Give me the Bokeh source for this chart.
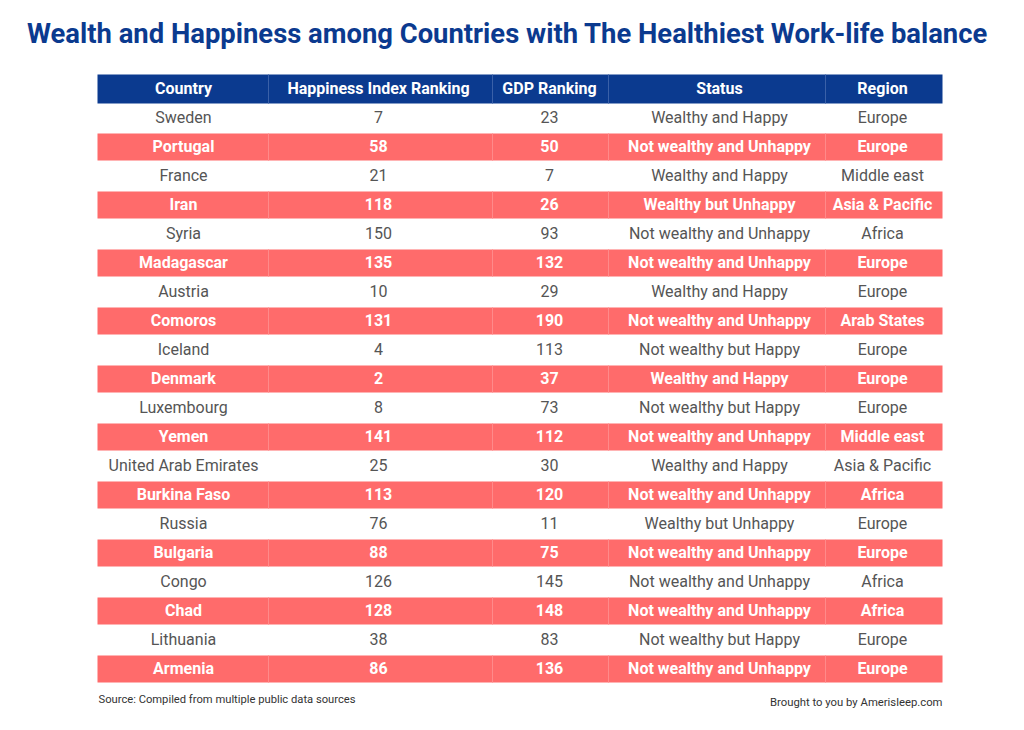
from bokeh.plotting import figure
from bokeh.models import ColumnDataSource, Range1d
from bokeh.core.properties import value
from bokeh.embed import file_html
from bokeh.resources import INLINE

title = "Wealth and Happiness among Countries with The Healthiest Work-life balance"
headers = ["Country", "Happiness Index Ranking", "GDP Ranking", "Status", "Region"]
countries = ["Sweden", "Portugal", "France", "Iran", "Syria", "Madagascar", "Austria",
             "Comoros", "Iceland", "Denmark", "Luxembourg", "Yemen", "United Arab Emirates",
             "Burkina Faso", "Russia", "Bulgaria", "Congo", "Chad", "Lithuania", "Armenia"]
happiness = [7, 58, 21, 118, 150, 135, 10, 131, 4, 2, 8, 141, 25, 113, 76, 88, 126, 128, 38, 86]
gdp = [23, 50, 7, 26, 93, 132, 29, 190, 113, 37, 73, 112, 30, 120, 11, 75, 145, 148, 83, 136]
status = ["Wealthy and Happy", "Not wealthy and Unhappy", "Wealthy and Happy",
          "Wealthy but Unhappy", "Not wealthy and Unhappy", "Not wealthy and Unhappy",
          "Wealthy and Happy", "Not wealthy and Unhappy", "Not wealthy but Happy",
          "Wealthy and Happy", "Not wealthy but Happy", "Not wealthy and Unhappy",
          "Wealthy and Happy", "Not wealthy and Unhappy", "Wealthy but Unhappy",
          "Not wealthy and Unhappy", "Not wealthy and Unhappy", "Not wealthy and Unhappy",
          "Not wealthy but Happy", "Not wealthy and Unhappy"]
region = ["Europe", "Europe", "Middle east", "Asia & Pacific", "Africa", "Europe", "Europe",
          "Arab States", "Europe", "Europe", "Europe", "Middle east", "Asia & Pacific",
          "Africa", "Europe", "Europe", "Africa", "Africa", "Europe", "Europe"]
source_note = "Source: Compiled from multiple public data sources"
credit = "Brought to you by Amerisleep.com"

W, H = 1008, 714
NAVY = "#0b3a8f"
PINK = "#ff6b6b"
GRAY = "#555555"
FONT = value("Roboto")

p = figure(width=W, height=H, output_backend="svg", toolbar_location=None,
           x_range=Range1d(0, W), y_range=Range1d(H, 0),
           min_border=0)
p.axis.visible = False
p.grid.visible = False
p.outline_line_color = None
p.background_fill_color = "white"

col_edges = [97, 268, 492, 608, 825, 942]
col_centers = [183, 378, 549, 719, 882]
head_top, head_bot = 74, 103
row_h = 29.0
n = len(countries)

# title
p.text(x=[507], y=[33], text=[title], text_font=FONT, text_font_style="bold",
       text_font_size="27.4px", text_color=NAVY, text_align="center", text_baseline="middle")

# header
p.quad(left=[col_edges[0]], right=[col_edges[-1]], top=[head_top], bottom=[head_bot],
       fill_color=NAVY, line_color=None)
p.segment(x0=col_edges[1:-1], x1=col_edges[1:-1], y0=[head_top] * 4, y1=[head_bot] * 4,
          line_color="#3a60a8", line_width=1)
p.text(x=col_centers, y=[(head_top + head_bot) / 2 - 1] * 5, text=headers, text_font=FONT,
       text_font_style="bold", text_font_size="16px", text_color="white",
       text_align="center", text_baseline="middle")

# rows
tops = [head_bot + i * row_h for i in range(n)]
bots = [t + row_h for t in tops]
pink_idx = [i for i in range(n) if i % 2 == 1]
p.quad(left=[col_edges[0]] * len(pink_idx), right=[col_edges[-1]] * len(pink_idx),
       top=[tops[i] + 1 for i in pink_idx], bottom=[bots[i] - 1 for i in pink_idx],
       fill_color=PINK, line_color=None)
sx0, sy0, sy1 = [], [], []
for i in pink_idx:
    for e in col_edges[1:-1]:
        sx0.append(e)
        sy0.append(tops[i] + 1)
        sy1.append(bots[i] - 1)
p.segment(x0=sx0, x1=sx0, y0=sy0, y1=sy1, line_color="#ff8a8a", line_width=1)

cols = [countries, [str(v) for v in happiness], [str(v) for v in gdp], status, region]
for parity, color, style in [(0, GRAY, "normal"), (1, "white", "bold")]:
    xs, ys, ts = [], [], []
    for i in range(n):
        if i % 2 != parity:
            continue
        for c in range(5):
            xs.append(col_centers[c])
            ys.append((tops[i] + bots[i]) / 2 - 1)
            ts.append(cols[c][i])
    src = ColumnDataSource(dict(x=xs, y=ys, t=ts))
    p.text(x="x", y="y", text="t", source=src, text_font=FONT, text_font_style=style,
           text_font_size="16px", text_color=color, text_align="center",
           text_baseline="middle")

# footer
p.text(x=[98], y=[699], text=[source_note], text_font=FONT, text_font_size="11.2px",
       text_color="#333333", text_align="left", text_baseline="middle")
p.text(x=[942], y=[702], text=[credit], text_font=FONT, text_font_size="11.3px",
       text_color="#333333", text_align="right", text_baseline="middle")

open("out.html", "w").write(file_html(p, INLINE))
